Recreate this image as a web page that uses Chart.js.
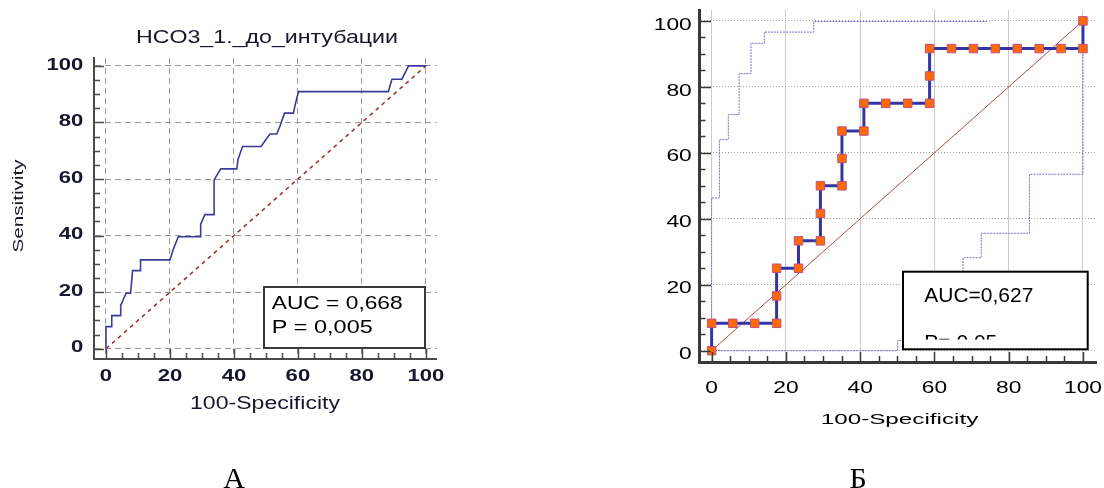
<!DOCTYPE html>
<html>
<head>
<meta charset="utf-8">
<script src="https://cdn.jsdelivr.net/npm/chart.js@4"></script>
<style>
  html, body { margin: 0; padding: 0; background: #fff; }
  #wrap { position: relative; width: 1104px; height: 488px; overflow: hidden; }
  canvas { position: absolute; left: 0; top: 0; }
</style>
</head>
<body>
<div id="wrap">
  <canvas id="rocA" width="1104" height="488"></canvas>
  <canvas id="rocB" width="1104" height="488"></canvas>
</div>
<script>
// ---- data ----
// A: HCO3_1 before intubation
const rocA_x = [0, 0, 1.8, 1.8, 4.4, 4.6, 6.3, 7.7, 8.3, 10.8, 10.8, 20, 21, 22.6, 29.4, 29.6, 30.9, 33.8, 33.8, 35, 35.9, 40.9, 41.3, 42.7, 48.5, 50, 51.3, 53.4, 54.5, 55.8, 58.6, 59.3, 60.2, 88.3, 88.8, 89.4, 92.5, 93.5, 94.6, 100];
const rocA_y = [0, 7.8, 7.8, 11.7, 11.7, 15.4, 19.6, 19.6, 27.6, 27.6, 31.4, 31.4, 35, 39.6, 39.6, 44, 47.4, 47.4, 59.7, 62, 63.6, 63.6, 67, 71.5, 71.5, 74, 75.9, 75.9, 79, 83.3, 83.3, 87, 90.9, 90.9, 93, 95.3, 95.3, 97.5, 100, 100];

// B: ROC curve with points and confidence bounds
const rocB_x = [0, 0, 5.7, 11.6, 17.5, 17.5, 17.5, 23.4, 23.4, 29.3, 29.3, 29.3, 35.1, 35.1, 35.1, 41.0, 41.0, 46.9, 52.8, 58.7, 58.7, 58.7, 64.6, 70.5, 76.4, 82.3, 88.2, 94.1, 100, 100];
const rocB_y = [0, 8.3, 8.3, 8.3, 8.3, 16.6, 25, 25, 33.3, 33.3, 41.6, 50, 50, 58.3, 66.6, 66.6, 75, 75, 75, 75, 83.3, 91.6, 91.6, 91.6, 91.6, 91.6, 91.6, 91.6, 91.6, 100];
const bandUp_x = [0, 0, 2.1, 2.1, 4.5, 4.5, 7.4, 7.4, 10.6, 10.6, 14.2, 14.2, 27.5, 27.5, 74.2];
const bandUp_y = [0, 46.3, 46.3, 64, 64, 71.6, 71.6, 84, 84, 93.2, 93.2, 96.6, 96.6, 99.8, 99.8];
const bandLow_x = [0, 50.1, 50.1, 67.7, 67.7, 72.6, 72.6, 85.6, 85.6, 100, 100];
const bandLow_y = [0, 0, 3.1, 3.1, 28.2, 28.2, 35.6, 35.6, 53.5, 53.5, 100];

const diag_x = [0, 100];
const diag_y = [0, 100];

const tickVals = [0, 5, 10, 15, 20, 25, 30, 35, 40, 45, 50, 55, 60, 65, 70, 75, 80, 85, 90, 95, 100];
const tickLabels = ['0', '20', '40', '60', '80', '100'];

const SANS = '"Liberation Sans", Arial, sans-serif';
const SERIF = '"Liberation Serif", "Times New Roman", serif';

const pts = (xs, ys) => xs.map((x, i) => ({ x: x, y: ys[i] }));

// text anchored on its cap-height centre, optionally stretched / rotated
function drawText(ctx, text, x, y, o) {
  ctx.save();
  ctx.font = (o.weight || 'normal') + ' ' + o.size + 'px ' + (o.family || SANS);
  ctx.fillStyle = o.color || '#000';
  ctx.textAlign = o.align || 'center';
  ctx.textBaseline = 'alphabetic';
  let sx = o.sx || 1;
  if (o.w) sx = o.w / ctx.measureText(text).width;
  ctx.translate(x, y);
  if (o.rotate) ctx.rotate(o.rotate);
  ctx.scale(sx, 1);
  ctx.fillText(text, 0, 0.358 * o.size);
  ctx.restore();
}

function axis(min, max, gridColor, dash, borderColor, borderWidth) {
  return {
    type: 'linear',
    min: min,
    max: max,
    afterBuildTicks: s => { s.ticks = tickVals.map(v => ({ value: v })); },
    afterFit: s => { if (s.isHorizontal()) s.height = 0; else s.width = 0; },
    ticks: { display: false },
    grid: {
      drawTicks: false,
      lineWidth: 1,
      color: c => (c.tick && c.tick.value % 20 === 0) ? gridColor : 'rgba(0,0,0,0)'
    },
    border: { display: true, color: borderColor, width: borderWidth, dash: dash }
  };
}

// inward tick marks, tick labels, titles and the AUC box
function decor(o) {
  return {
    id: 'decor',
    afterDraw(chart) {
      const ctx = chart.ctx;
      const a = chart.chartArea;
      const xs = chart.scales.x, ys = chart.scales.y;

      ctx.save();
      ctx.strokeStyle = o.tickColor;
      ctx.lineWidth = o.tickWidth;
      ctx.beginPath();
      ys.ticks.forEach(t => {
        const y = Math.round(ys.getPixelForValue(t.value)) + 0.5;
        const len = t.value % 20 === 0 ? o.majorY : o.minorY;
        ctx.moveTo(a.left, y);
        ctx.lineTo(a.left + len, y);
      });
      xs.ticks.forEach(t => {
        const x = Math.round(xs.getPixelForValue(t.value)) + 0.5;
        const len = t.value % 20 === 0 ? o.majorX : o.minorX;
        ctx.moveTo(x, a.bottom);
        ctx.lineTo(x, a.bottom - len);
      });
      ctx.stroke();
      ctx.restore();

      tickLabels.forEach(lbl => {
        const v = Number(lbl);
        drawText(ctx, lbl, o.yLabelRight, ys.getPixelForValue(v) + o.yLabelShift,
          { size: o.tickSize, weight: o.tickWeight, sx: o.tickSx, align: 'right', color: o.textColor });
        drawText(ctx, lbl, xs.getPixelForValue(v), o.xLabelY,
          { size: o.tickSize, weight: o.tickWeight, sx: o.tickSx, color: o.textColor });
      });

      (o.texts || []).forEach(t => drawText(ctx, t.text, t.x, t.y, Object.assign({ color: o.textColor }, t)));

      const b = o.box;
      ctx.save();
      ctx.fillStyle = '#fff';
      ctx.fillRect(b.x, b.y, b.w, b.h);
      ctx.strokeStyle = b.color;
      ctx.lineWidth = 2;
      ctx.strokeRect(b.x, b.y, b.w, b.h);
      ctx.restore();
      b.lines.forEach(l => {
        ctx.save();
        if (l.clipY) {
          ctx.beginPath();
          ctx.rect(b.x, b.y, b.w, l.clipY - b.y);
          ctx.clip();
        }
        drawText(ctx, l.text, l.x, l.y, { size: l.size, sx: l.sx, w: l.w, align: 'left', color: '#000' });
        ctx.restore();
      });
    }
  };
}

const common = {
  responsive: false,
  animation: false,
  devicePixelRatio: 1,
  plugins: { legend: { display: false }, tooltip: { enabled: false }, title: { display: false } }
};

// ---- chart A ----
new Chart(document.getElementById('rocA'), {
  type: 'line',
  data: {
    datasets: [
      { data: pts(rocA_x, rocA_y), borderColor: '#3b3b9c', borderWidth: 1.6, pointRadius: 0, order: 0 },
      { data: pts(diag_x, diag_y), borderColor: '#9b2b2b', borderWidth: 1.5, borderDash: [4, 4], pointRadius: 0, order: 1 }
    ]
  },
  options: Object.assign({}, common, {
    layout: { padding: { left: 94, top: 58, right: 1104 - 436.7, bottom: 488 - 359 } },
    scales: {
      x: axis(-3.75, 103.4, '#9a9a9a', [6, 4], '#4a4a4a', 2),
      y: axis(-3.64, 102.8, '#9a9a9a', [6, 4], '#4a4a4a', 2)
    }
  }),
  plugins: [decor({
    tickColor: '#4a4a4a', tickWidth: 1.5,
    majorY: 10, minorY: 6, majorX: 10, minorX: 6,
    tickSize: 17, tickWeight: 'bold', tickSx: 1.3, textColor: '#16162e',
    yLabelRight: 83.3, yLabelShift: -2.5, xLabelY: 374.5,
    texts: [
      { text: 'HCO3_1._до_интубации', x: 267, y: 37, size: 17.5, w: 262 },
      { text: '100-Specificity', x: 265, y: 402.5, size: 18, w: 150 },
      { text: 'Sensitivity', x: 18, y: 206, size: 15, w: 93, rotate: -Math.PI / 2 },
      { text: 'А', x: 234, y: 477, size: 30, family: SERIF, color: '#000' }
    ],
    box: {
      x: 264, y: 287, w: 161, h: 61, color: '#3a3a3a',
      lines: [
        { text: 'AUC = 0,668', x: 271.7, y: 302.7, size: 18.6, w: 131 },
        { text: 'P = 0,005', x: 271.7, y: 326.7, size: 18.6, w: 101 }
      ]
    }
  })]
});

// ---- chart B ----
new Chart(document.getElementById('rocB'), {
  type: 'line',
  data: {
    datasets: [
      {
        data: pts(rocB_x, rocB_y), borderColor: '#3434a2', borderWidth: 3, borderJoinStyle: 'miter',
        pointStyle: 'rect', pointRadius: 6, pointBackgroundColor: '#ff6a00',
        pointBorderColor: '#c0508a', pointBorderWidth: 1, order: 0
      },
      { data: pts(diag_x, diag_y), borderColor: '#b24a4a', borderWidth: 1, pointRadius: 0, order: 1 },
      { data: pts(bandUp_x, bandUp_y), borderColor: '#7272cc', borderWidth: 1, borderDash: [2, 1], pointRadius: 0, order: 2 },
      { data: pts(bandLow_x, bandLow_y), borderColor: '#7272cc', borderWidth: 1, borderDash: [2, 1], pointRadius: 0, order: 2 }
    ]
  },
  options: Object.assign({}, common, {
    layout: { padding: { left: 699, top: 10, right: 1104 - 1096.7, bottom: 488 - 362 } },
    scales: {
      x: Object.assign(axis(-3.4, 103.7, '#cccccc', [], '#3a3a3a', 3)),
      y: axis(-3.43, 103.3, '#a0a0a0', [1, 2], '#3a3a3a', 3)
    }
  }),
  plugins: [decor({
    tickColor: '#3a3a3a', tickWidth: 1.5,
    majorY: 12, minorY: 6.5, majorX: 10, minorX: 6,
    tickSize: 15.8, tickWeight: 'normal', tickSx: 1.44, textColor: '#000',
    yLabelRight: 691.7, yLabelShift: 3, xLabelY: 387,
    texts: [
      { text: '100-Specificity', x: 899.5, y: 418.5, size: 15.4, w: 157.6 },
      { text: 'Б', x: 858, y: 477, size: 30, family: SERIF, color: '#000' }
    ],
    box: {
      x: 903, y: 271.7, w: 184.7, h: 77.6, color: '#000',
      lines: [
        { text: 'AUC=0,627', x: 924.3, y: 294.5, size: 20, w: 109 },
        { text: 'P= 0,05', x: 924.3, y: 342.2, size: 20, sx: 1.05, clipY: 339.5 }
      ]
    }
  })]
});
</script>
</body>
</html>
